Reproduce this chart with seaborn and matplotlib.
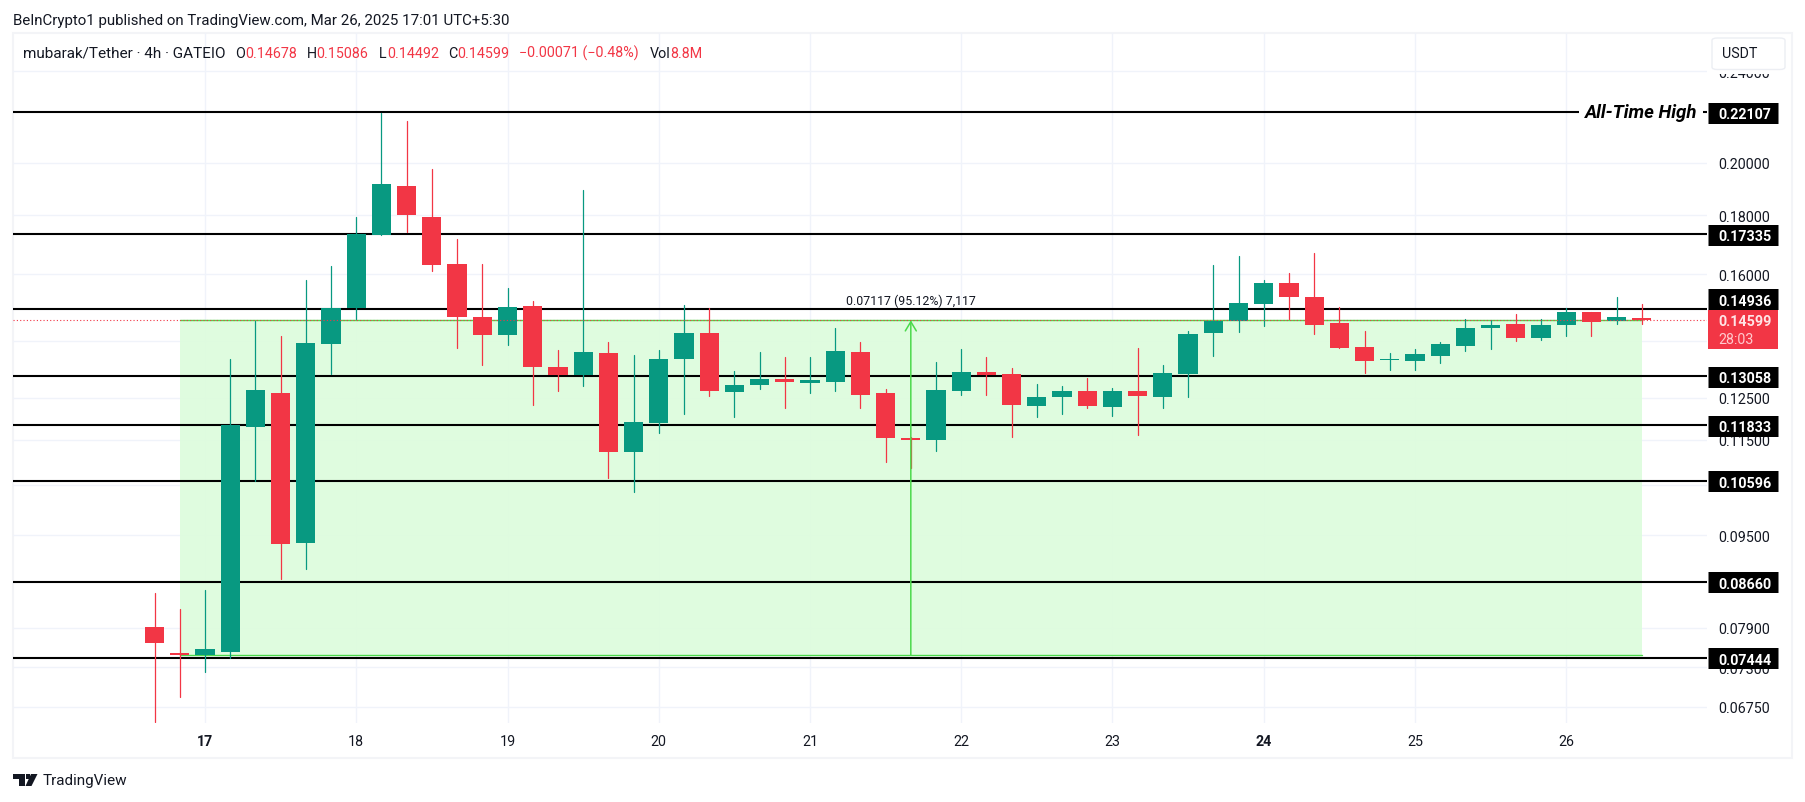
import matplotlib
matplotlib.use("Agg")
import matplotlib.pyplot as plt
import matplotlib.transforms as mtrans
from matplotlib.patches import Rectangle, FancyBboxPatch, Polygon
import seaborn as sns
import pandas as pd

W, H = 1805, 803
GREEN, RED, INK = "#089981", "#f23645", "#131722"
GRID = "#f0f3fa"

opens = [.07905,.07505,.07475,.07525,.11792,.12613,.09354,.13925,.14947,.17301,.19106,.17959,.16351,.14708,.14170,.15008,.13311,.13082,.13662,.11219,
         .11887,.13508,.14218,.12646,.12824,.12972,.12876,.12902,.13690,.12613,.11530,.11491,.12672,.13154,.13102,.12297,.12521,.12664,.12273,.12664,
         .12521,.13102,.14227,.14584,.15076,.15713,.15279,.14505,.13827,.13481,.13454,.13587,.13862,.14371,.14478,.14087,.14455,.14827,.14572,.14678]
closes = [.07656,.07475,.07566,.11840,.12690,.09335,.13938,.14947,.17328,.19147,.18006,.16295,.14687,.14170,.14977,.13294,.13077,.13690,.11219,.11904,
          .13500,.14218,.12672,.12816,.12972,.12894,.12946,.13717,.12580,.11537,.11484,.12690,.13154,.13077,.12322,.12514,.12664,.12297,.12664,.12546,
          .13128,.14190,.14584,.15096,.15713,.15279,.14455,.13808,.13454,.13508,.13635,.13910,.14362,.14449,.14087,.14449,.14827,.14543,.14680,.14599]
highs = [.08461,.08195,.08512,.13500,.14572,.14161,.15806,.16254,.17925,.22063,.21713,.19767,.17155,.16320,.15556,.15157,.13753,.18918,.13966,.13608,
         .13744,.15065,.14947,.13180,.13690,.13554,.13554,.14362,.13966,.12715,.11553,.13419,.13772,.13554,.13260,.12843,.12792,.12998,.12740,.13800,
         .13340,.14276,.16287,.16585,.15806,.16028,.16683,.14977,.14276,.13662,.13772,.13966,.14622,.14593,.14768,.14622,.14947,.14827,.15279,.15086]
lows = [.06540,.06873,.07226,.07431,.10588,.08706,.08881,.13102,.14622,.17301,.17406,.16103,.13808,.13346,.13890,.12314,.12672,.12798,.10645,.10358,
        .11652,.12096,.12540,.12037,.12723,.12250,.12621,.12672,.12250,.10997,.10867,.11242,.12572,.12572,.11560,.12031,.12103,.12250,.12054,.11605,
        .12250,.12521,.13587,.14256,.14426,.14622,.14198,.13808,.13135,.13214,.13214,.13400,.13725,.13780,.14002,.14030,.14141,.14141,.14486,.14492]
first_day = 16 + 4 / 6          # first candle, in days of March
candles_per_day = 6
levels = [0.22107, 0.17335, 0.14936, 0.13058, 0.11833, 0.10596, 0.08660, 0.07444]
level_names = ["0.22107", "0.17335", "0.14936", "0.13058", "0.11833", "0.10596", "0.08660", "0.07444"]
price_ticks = [0.24, 0.20, 0.18, 0.16, 0.14, 0.125, 0.115, 0.105, 0.095, 0.079, 0.073, 0.0675]
hidden_price_labels = [0.14, 0.105]   # covered by the level labels in the reference
day_ticks = [17, 18, 19, 20, 21, 22, 23, 24, 25, 26]
range_low, range_high = 0.07482, 0.14599
last_price = 0.14599

sns.set_theme(style="white")
plt.rcParams["font.family"] = ["Roboto", "DejaVu Sans"]
plt.rcParams["text.color"] = INK

fig = plt.figure(figsize=(W / 100, H / 100), dpi=100, facecolor="white")
L, R, T, B = 13.4, 1707, 33.5, 723.5
ax = fig.add_axes([L / W, 1 - B / H, (R - L) / W, (B - T) / H])


def fx(x):
    return x / W


def fy(y):
    return 1 - y / H


def ftext(x, y, s, **kw):
    kw.setdefault("va", "center")
    kw.setdefault("ha", "left")
    return fig.text(fx(x), fy(y), s, **kw)


def frect(x0, y0, x1, y1, **kw):
    p = Rectangle((fx(x0), fy(y1)), (x1 - x0) / W, (y1 - y0) / H, transform=fig.transFigure, **kw)
    fig.add_artist(p)
    return p


ax.set_yscale("log")
ax.set_xlim(15.733, 26.931)
ax.set_ylim(0.06538, 0.25936)
ax.set_facecolor("none")
for s in ax.spines.values():
    s.set_visible(False)

ax.yaxis.tick_right()
ax.set_yticks(price_ticks)
ax.set_yticklabels(["" if t in hidden_price_labels else f"{t:.5f}" for t in price_ticks], fontsize=10.3, color=INK)
ax.minorticks_off()
ax.set_xticks(day_ticks)
ax.set_xticklabels([str(d) for d in day_ticks], fontsize=10.3, color=INK)
for lab, d in zip(ax.get_xticklabels(), day_ticks):
    if d in (17, 24):
        lab.set_fontweight("bold")
ax.tick_params(axis="y", length=0, pad=8)
ax.tick_params(axis="x", length=0, pad=8.5)
ax.grid(True, color=GRID, lw=1.0, zorder=0)
ax.set_axisbelow(True)

# measured range box
days = [first_day + i / candles_per_day for i in range(len(opens))]
box_x0, box_x1 = days[1], days[-1]
ax.fill_between([box_x0, box_x1], range_low, range_high, color="#ddfcdd", alpha=0.93, lw=0, zorder=1)
ax.plot([box_x0, box_x1], [range_low, range_low], color="#4cd94c", lw=1.0, zorder=1.5)
ax.plot([box_x0, box_x1], [range_high, range_high], color="#4cd94c", lw=1.0, zorder=1.5)

# horizontal levels
for lv in levels[1:]:
    ax.plot([ax.get_xlim()[0], ax.get_xlim()[1]], [lv, lv], color="black", lw=1.5, zorder=2, solid_capstyle="butt")
ax.plot([ax.get_xlim()[0], 26.084], [levels[0]] * 2, color="black", lw=1.5, zorder=2, solid_capstyle="butt")
ax.plot([26.904, ax.get_xlim()[1]], [levels[0]] * 2, color="black", lw=1.5, zorder=2, solid_capstyle="butt")

# wicks through seaborn, bodies as bars
rows = []
for i, (d, o, h, l, c) in enumerate(zip(days, opens, highs, lows, closes)):
    side = "up" if c >= o else "down"
    rows.append({"candle": i, "day": d, "price": l, "side": side})
    rows.append({"candle": i, "day": d, "price": h, "side": side})
wicks = pd.DataFrame(rows)
sns.lineplot(data=wicks, x="day", y="price", units="candle", estimator=None, hue="side",
             palette={"up": GREEN, "down": RED}, lw=0.9, legend=False, sort=False, ax=ax, zorder=3)
ax.set_xlabel("")
ax.set_ylabel("")
body_colors = [GREEN if c >= o else RED for o, c in zip(opens, closes)]
ax.bar(days, [abs(c - o) for o, c in zip(opens, closes)], bottom=[min(o, c) for o, c in zip(opens, closes)],
       width=0.127, color=body_colors, lw=0, zorder=3.2)

# last-price dotted line
ax.plot(ax.get_xlim(), [last_price, last_price], color=RED, lw=0.8, ls=(0, (1, 2)), zorder=3.5)

# arrow and measurement text
arrow_x = days[30]
ax.annotate("", xy=(arrow_x, range_high), xytext=(arrow_x, range_low),
            arrowprops=dict(arrowstyle="->,head_length=0.55,head_width=0.33", color="#4cd94c", lw=1.1,
                            shrinkA=0, shrinkB=0), zorder=4)
ax.annotate("0.07117 (95.12%) 7,117", xy=(arrow_x, range_high), xytext=(0, 14.5), textcoords="offset points",
            ha="center", va="center", fontsize=8.9, color=INK, zorder=4)

# frame
frect(13, 33.5, 1792, 758.5, fill=False, edgecolor="#f3f4f7", lw=1.5, zorder=0)

# level labels on the price scale
blend = mtrans.blended_transform_factory(ax.transAxes, ax.transData)
ax_w = R - L
for lv, name in zip(levels, level_names):
    dy = 9.5 if name == "0.14936" else -0.5
    tr = blend + mtrans.ScaledTranslation(0, dy / 100, fig.dpi_scale_trans)
    ax.plot([(1708 - L) / ax_w, (1778 - L) / ax_w], [lv, lv], color="black", lw=21 * 0.72, solid_capstyle="butt",
            transform=tr, clip_on=False, zorder=8)
    ax.text((1745 - L) / ax_w, lv, name, color="white", fontsize=10.3, fontweight="bold", ha="center", va="center_baseline",
            transform=tr, clip_on=False, zorder=9)

frect(1708, 311, 1778, 350, facecolor=RED, edgecolor="none", zorder=8)
ftext(1745, 321.5, f"{last_price:.5f}", color="#ffe4e6", fontsize=10.3, fontweight="bold", ha="center", zorder=9)
ftext(1718, 339.5, "28:03", color="#ffc9cd", fontsize=10.3, zorder=9)

ax.text(26.125, levels[0], "All-Time High", fontsize=13.4, fontstyle="italic", fontweight="bold", color="black",
        ha="left", va="center", zorder=5)

# USDT button, with the white margin that cuts off the top price label
frect(1708, 36, 1790, 75, facecolor="white", edgecolor="none", zorder=10)
fig.add_artist(FancyBboxPatch((fx(1712), fy(70.5)), 73 / W, 31.5 / H, boxstyle="round,pad=0,rounding_size=0.003",
                              transform=fig.transFigure, facecolor="white", edgecolor="#eceef3", lw=1, zorder=10.5))
ftext(1722, 54, "USDT", fontsize=10.3, color=INK, zorder=11)

# header
ftext(13, 20.5, "BeInCrypto1 published on TradingView.com, Mar 26, 2025 17:01 UTC+5:30", fontsize=10.8, color=INK)
ftext(23, 53.5, "mubarak/Tether \u00b7 4h \u00b7 GATEIO", fontsize=10.95, color=INK)
for x, s in [(235, "O"), (307, "H"), (378.5, "L"), (448, "C"), (650, "Vol")]:
    ftext(x, 53.5, s, fontsize=10.3, color=INK)
for x, s in [(245.5, "0.14678"), (316, "0.15086"), (387, "0.14492"), (457, "0.14599"),
             (519, "\u22120.00071 (\u22120.48%)"), (670.5, "8.8M")]:
    ftext(x, 53.5, s, fontsize=10.3, color=RED)

# footer logo
logo = "#131722"
fig.add_artist(Polygon([(fx(13), fy(775)), (fx(24.5), fy(775)), (fx(24.5), fy(787)), (fx(19), fy(787)), (fx(19), fy(780)), (fx(13), fy(780))],
                       transform=fig.transFigure, facecolor=logo, edgecolor="none"))
fig.add_artist(Polygon([(fx(31), fy(775)), (fx(37.5), fy(775)), (fx(31.5), fy(787)), (fx(25.5), fy(787))],
                       transform=fig.transFigure, facecolor=logo, edgecolor="none"))
fig.add_artist(Rectangle((fx(25.5), fy(780)), 4.5 / W, 5 / H, transform=fig.transFigure, facecolor=logo, edgecolor="none"))
ftext(42.4, 781.5, "TradingView", fontsize=11, color=INK)

fig.savefig("out.png", dpi=100, facecolor="white")
